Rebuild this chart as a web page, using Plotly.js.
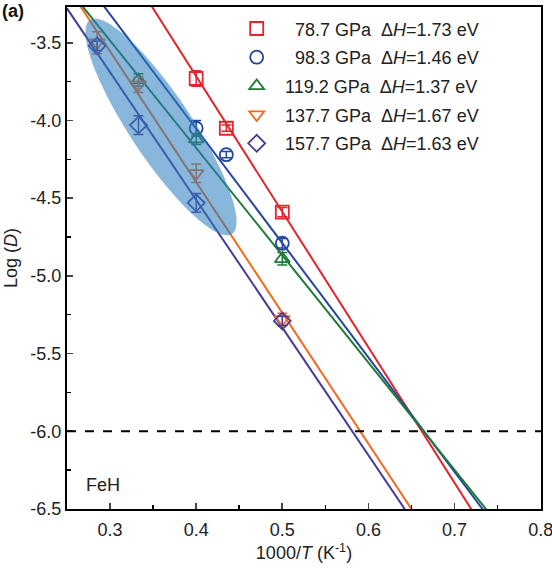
<!DOCTYPE html>
<html><head><meta charset="utf-8">
<script src="https://cdn.plot.ly/plotly-3.0.1.min.js"></script>
<style>html,body{margin:0;padding:0;background:#fff}#chart{width:552px;height:568px}</style>
</head><body><div id="chart"></div>
<script>
// ---- data ----
const pressures = ['78.7', '98.3', '119.2', '137.7', '157.7'];
const dH = [1.73, 1.46, 1.37, 1.67, 1.63];            // eV
const fitIntercept = [-0.228, -1.11, -1.415, -1.03, -1.225];

const x787 = [0.4, 0.435, 0.5];
const y787 = [-3.73, -4.05, -4.59];
const e787 = [0.05, 0.02, 0.03];

const x983 = [0.4, 0.435, 0.5];
const y983 = [-4.05, -4.22, -4.79];
const e983 = [0.05, 0.02, 0.03];

const x1192 = [0.333, 0.4, 0.5];
const y1192 = [-3.74, -4.12, -4.89];
const e1192 = [0.04, 0.035, 0.04];

const x1377 = [0.285, 0.333, 0.4, 0.5];
const y1377 = [-3.50, -3.77, -4.34, -5.28];
const e1377 = [0.07, 0.05, 0.06, 0.04];

const x1577 = [0.285, 0.333, 0.4, 0.5];
const y1577 = [-3.52, -4.03, -4.53, -5.29];
const e1577 = [0.03, 0.06, 0.06, 0.03];

const xTickVals = [0.3, 0.4, 0.5, 0.6, 0.7, 0.8];
const xTickText = ['0.3', '0.4', '0.5', '0.6', '0.7', '0.8'];
const yTickVals = [-6.5, -6.0, -5.5, -5.0, -4.5, -4.0, -3.5];
const yTickText = ['-6.5', '-6.0', '-5.5', '-5.0', '-4.5', '-4.0', '-3.5'];
const refLogD = -6.0;

// ---- style ----
const colors = ['#e3242b', '#24479c', '#1f7a35', '#f26b21', '#4a3c94'];
const symbols = ['square-open', 'circle-open', 'triangle-up-open', 'triangle-down-open', 'diamond-open'];
const KLN10 = 8.617e-5 * Math.LN10 * 1000;   // slope factor for 1000/T
const xRange = [0.25, 0.8004], yRange = [-6.5, -3.27];
const M = {l: 67, r: 11, t: 7, b: 59};
const W = 552, H = 568;
const pw = W - M.l - M.r, ph = H - M.t - M.b;
const FS = 18;

const series = [[x787, y787, e787], [x983, y983, e983], [x1192, y1192, e1192], [x1377, y1377, e1377], [x1577, y1577, e1577]];
const font = 'Liberation Sans, Arial, sans-serif';
const traces = [];
// fit lines
series.forEach((s, i) => {
  const slope = -dH[i] / KLN10;
  traces.push({
    type: 'scatter', mode: 'lines', x: xRange, y: xRange.map(x => fitIntercept[i] + slope * x),
    line: {color: colors[i], width: 2}, showlegend: false, hoverinfo: 'skip'
  });
});
// data points
series.forEach((s, i) => {
  traces.push({
    type: 'scatter', mode: 'markers', x: s[0], y: s[1],
    error_y: {type: 'data', array: s[2], visible: true, color: colors[i], thickness: 1.5, width: 5},
    marker: {symbol: symbols[i], size: 13, color: colors[i], line: {width: 1.8, color: colors[i]}},
    name: (pressures[i].length < 5 ? '\u2007' : '') + pressures[i] + ' GPa\u00a0\u00a0\u0394<i>H</i>=' + dH[i].toFixed(2) + ' eV',
    legendgroup: 'g' + i
  });
});

// ellipse (highlight region) in pixel geometry -> data coords
const kx = pw / (xRange[1] - xRange[0]), ky = ph / (yRange[1] - yRange[0]);
const P1 = [90, 20], P2 = [232, 234];   // pixel ends of major axis (page coords)
const cxp = (P1[0] + P2[0]) / 2, cyp = (P1[1] + P2[1]) / 2;
const ang = Math.atan2(P2[1] - P1[1], P2[0] - P1[0]);
const A = Math.hypot(P2[0] - P1[0], P2[1] - P1[1]) / 2, B = 31;
let path = '';
for (let k = 0; k <= 72; k++) {
  const t = k / 72 * 2 * Math.PI;
  const px = cxp + A * Math.cos(t) * Math.cos(ang) - B * Math.sin(t) * Math.sin(ang);
  const py = cyp + A * Math.cos(t) * Math.sin(ang) + B * Math.sin(t) * Math.cos(ang);
  const dx = xRange[0] + (px - M.l) / kx;
  const dy = yRange[1] - (py - M.t) / ky;
  path += (k === 0 ? 'M' : 'L') + dx.toFixed(5) + ',' + dy.toFixed(5);
}
path += 'Z';

const layout = {
  width: W, height: H, margin: M,
  paper_bgcolor: '#fff', plot_bgcolor: '#fff',
  font: {family: font, size: FS, color: '#222'},
  showlegend: true,
  legend: {x: (228.4 - M.l) / pw, y: 1 - (10.3 - M.t) / ph, xanchor: 'left', yanchor: 'top', itemwidth: 46.6,
           tracegroupgap: 2.3, bgcolor: 'rgba(0,0,0,0)', font: {family: font, size: FS, color: '#222'}},
  xaxis: {range: xRange, tickvals: xTickVals, ticktext: xTickText, ticks: 'inside', ticklen: 6, tickwidth: 1.8,
          ticklabelstandoff: 3, ticklabeloverflow: 'allow',
          showline: true, linewidth: 2, linecolor: '#000', mirror: true, showgrid: false, zeroline: false,
          minor: {dtick: 0.05, tick0: 0.25, ticks: 'inside', ticklen: 4, tickwidth: 1.5, tickcolor: '#000'},
          tickfont: {family: font, size: FS, color: '#222'},
          title: {text: '1000/<i>T</i> (K<sup>-1</sup>)', font: {family: font, size: FS, color: '#222'}, standoff: 8}},
  yaxis: {range: yRange, tickvals: yTickVals, ticktext: yTickText, ticks: 'inside', ticklen: 6, tickwidth: 1.8,
          showline: true, linewidth: 2, linecolor: '#000', mirror: true, showgrid: false, zeroline: false,
          minor: {dtick: 0.25, tick0: -6.5, ticks: 'inside', ticklen: 4, tickwidth: 1.5, tickcolor: '#000'},
          tickfont: {family: font, size: FS, color: '#222'},
          title: {text: 'Log (<i>D</i>)', font: {family: font, size: FS, color: '#222'}, standoff: 8}},
  shapes: [
    {type: 'line', xref: 'paper', x0: 0, x1: 1, yref: 'y', y0: refLogD, y1: refLogD,
     line: {color: '#000', width: 2, dash: 'dash'}},
    {type: 'path', xref: 'x', yref: 'y', path: path, fillcolor: 'rgb(45,125,190)', opacity: 0.56,
     line: {width: 0}, layer: 'above'}
  ],
  annotations: [
    {text: '<b>(a)</b>', xref: 'paper', yref: 'paper', x: -0.141, y: 1 - (11 - M.t) / ph, xanchor: 'left', yanchor: 'middle',
     showarrow: false, font: {family: font, size: FS, color: '#111'}},
    {text: 'FeH', xref: 'paper', yref: 'paper', x: (84 - M.l) / pw, y: 1 - (485 - M.t) / ph, xanchor: 'left', yanchor: 'middle',
     showarrow: false, font: {family: font, size: FS, color: '#222'}}
  ]
};
Plotly.newPlot('chart', traces, layout, {staticPlot: true});
</script></body></html>
